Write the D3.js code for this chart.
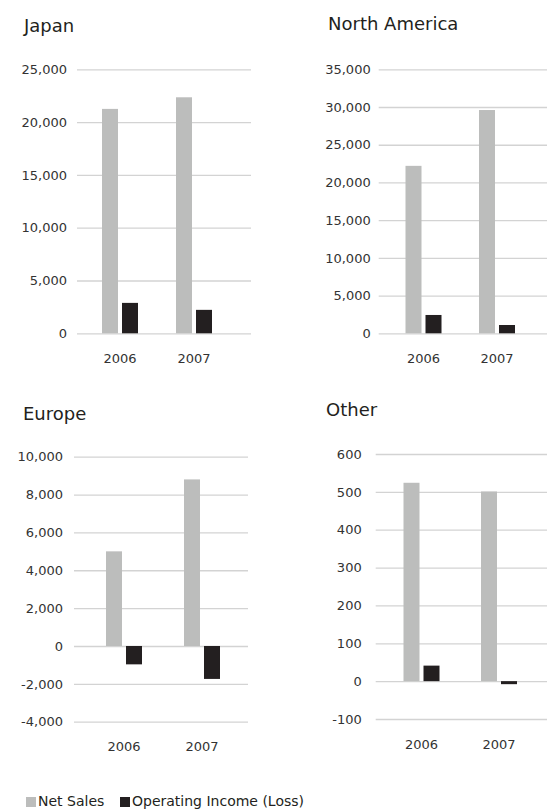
<!DOCTYPE html>
<html>
<head>
<meta charset="utf-8">
<script src="https://cdn.jsdelivr.net/npm/d3@7"></script>
<style>
  body { margin: 0; background: #fff; }
  svg { display: block; font-family: "DejaVu Sans", sans-serif; }
</style>
</head>
<body>
<div id="chart"></div>
<script>
// data
var years = ["2006", "2007"];
var series = ["Net Sales", "Operating Income (Loss)"];
var regions = ["Japan", "North America", "Europe", "Other"];

var japanSales = [21250, 22350];
var japanIncome = [2880, 2220];
var naSales = [22200, 29600];
var naIncome = [2430, 1100];
var europeSales = [5000, 8800];
var europeIncome = [-970, -1740];
var otherSales = [524, 501];
var otherIncome = [41, -8];

var japanTicks = [0, 5000, 10000, 15000, 20000, 25000];
var naTicks = [0, 5000, 10000, 15000, 20000, 25000, 30000, 35000];
var europeTicks = [-4000, -2000, 0, 2000, 4000, 6000, 8000, 10000];
var otherTicks = [-100, 0, 100, 200, 300, 400, 500, 600];

var colors = ["#bcbdbc", "#231f20"];

// layout of the four panels
var panels = [
  { name: regions[0], sales: japanSales, income: japanIncome, ticks: japanTicks,
    gx: [77, 251], band: [83, 231], yr: [333.3, 69.3], pad: 10, tx: 24, ty: 27 },
  { name: regions[1], sales: naSales, income: naIncome, ticks: naTicks,
    gx: [378.7, 547], band: [386.75, 533.75], yr: [333.3, 69.3], pad: 8, tx: 328, ty: 25 },
  { name: regions[2], sales: europeSales, income: europeIncome, ticks: europeTicks,
    gx: [74, 248], band: [85, 241], yr: [721.7, 456.7], pad: 11, tx: 23, ty: 415 },
  { name: regions[3], sales: otherSales, income: otherIncome, ticks: otherTicks,
    gx: [375.7, 547], band: [382.75, 537.75], yr: [719, 454], pad: 14, tx: 326, ty: 411 }
];

var w = 547, h = 809;

var svg = d3.select("#chart")
  .append("svg")
  .attr("width", w)
  .attr("height", h);

var inner = d3.scaleBand()
  .domain(series)
  .range([-18, 18])
  .paddingInner(0.2);

// plain hyphen for negatives, like the original
var fmt = function(v) { return d3.format(",")(v).replace("\u2212", "-"); };

panels.forEach(function(p) {
  var g = svg.append("g");

  var y = d3.scaleLinear()
    .domain(d3.extent(p.ticks))
    .range(p.yr);

  var x = d3.scaleBand()
    .domain(years)
    .range(p.band);

  // title
  g.append("text")
    .attr("x", p.tx)
    .attr("y", p.ty)
    .attr("dominant-baseline", "middle")
    .attr("font-size", 18)
    .attr("fill", "#231f20")
    .text(p.name);

  // gridlines + tick labels
  var axis = d3.axisLeft(y)
    .tickValues(p.ticks)
    .tickFormat(fmt)
    .tickSizeInner(-(p.gx[1] - p.gx[0]))
    .tickSizeOuter(0)
    .tickPadding(p.pad);

  var ax = g.append("g")
    .attr("transform", "translate(" + p.gx[0] + ",0)")
    .call(axis);

  ax.select(".domain").remove();
  ax.selectAll(".tick line")
    .attr("stroke", "#d3d3d3")
    .attr("stroke-width", 1.3);
  ax.selectAll(".tick text")
    .attr("font-size", 13)
    .attr("font-family", "DejaVu Sans, sans-serif")
    .attr("fill", "#333");

  // bars
  var rows = years.map(function(yr, i) {
    return { year: yr, values: [p.sales[i], p.income[i]] };
  });

  var grp = g.selectAll(".yr")
    .data(rows)
    .enter().append("g")
    .attr("transform", function(d) { return "translate(" + (x(d.year) + x.bandwidth() / 2) + ",0)"; });

  grp.selectAll("rect")
    .data(function(d) { return d.values.map(function(v, i) { return { s: series[i], v: v, i: i }; }); })
    .enter().append("rect")
    .attr("x", function(d) { return inner(d.s); })
    .attr("width", inner.bandwidth())
    .attr("y", function(d) { return y(Math.max(0, d.v)); })
    .attr("height", function(d) { return Math.abs(y(d.v) - y(0)); })
    .attr("fill", function(d) { return colors[d.i]; });

  // year labels
  grp.append("text")
    .attr("y", p.yr[0] + 26)
    .attr("text-anchor", "middle")
    .attr("dominant-baseline", "middle")
    .attr("font-size", 13)
    .attr("fill", "#333")
    .text(function(d) { return d.year; });
});

// legend
var legend = svg.append("g")
  .attr("transform", "translate(26,802)");

var lx = [0, 94];

series.forEach(function(s, i) {
  var item = legend.append("g")
    .attr("transform", "translate(" + lx[i] + ",0)");
  item.append("rect")
    .attr("x", 0)
    .attr("y", -5)
    .attr("width", 10)
    .attr("height", 10)
    .attr("fill", colors[i]);
  item.append("text")
    .attr("x", 12)
    .attr("y", 0)
    .attr("dominant-baseline", "middle")
    .attr("font-size", 14)
    .attr("fill", "#231f20")
    .text(s);
});
</script>
</body>
</html>
